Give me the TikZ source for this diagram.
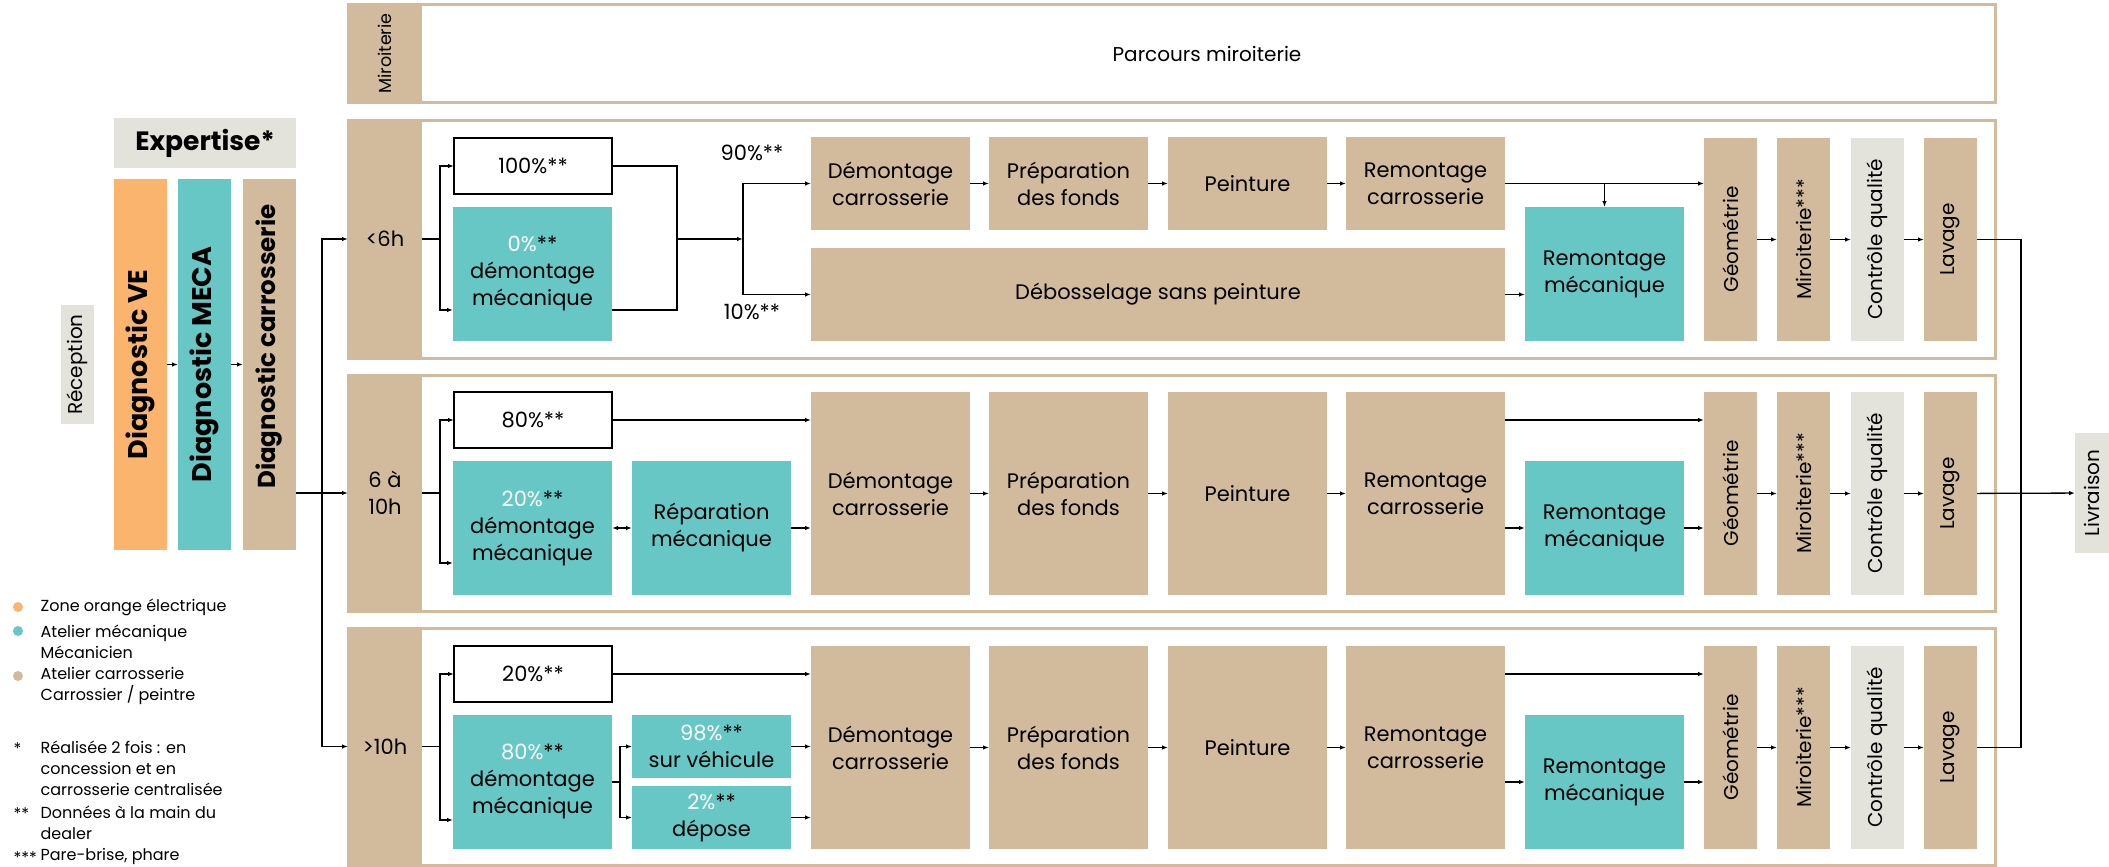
\documentclass[tikz,border=0pt]{standalone}
\usepackage{fontspec}
\setmainfont{Poppins}
\usetikzlibrary{arrows.meta}
\definecolor{colelec}{HTML}{FAB46E}
\definecolor{colmeca}{HTML}{66C7C5}
\definecolor{colcarro}{HTML}{D2BB9C}
\definecolor{colneutre}{HTML}{E3E3DB}

\begin{document}
\begin{tikzpicture}[x=1pt,y=-1pt,>={Latex[length=6pt,width=4.5pt]},line width=1.3pt,
    box/.style={inner sep=0pt,outer sep=0pt,align=center,font=\fontsize{21}{27}\selectfont},
    carro/.style={box,fill=colcarro},
    meca/.style={box,fill=colmeca},
    elec/.style={box,fill=colelec},
    neutre/.style={box,fill=colneutre},
    pct/.style={box,draw=black,line width=1.2pt,fill=white,minimum width=158,minimum height=56},
    cadre/.style={draw=colcarro,line width=3pt,fill=white,inner sep=0pt,minimum width=1647},
    diag/.style={minimum width=53,minimum height=371,font=\bfseries\fontsize{27}{32}\selectfont},
    vbar/.style={minimum width=53,minimum height=203,font=\fontsize{20}{24}\selectfont},
    large/.style={minimum width=159},
    leg/.style={inner sep=0pt,anchor=west,align=left,font=\fontsize{16}{21}\selectfont},
    puce/.style={circle,inner sep=0pt,minimum size=10}]
        \useasboundingbox(0,0)rectangle(2109,867);
        % cadres des parcours
        \node(f0)at(1171.5,53.5)[cadre,minimum height=97]{};
        \node(f1)at(1171.5,239)[cadre,minimum height=238]{};
        \node(f2)at(1171.5,493)[cadre,minimum height=236]{};
        \node(f3)at(1171.5,746.5)[cadre,minimum height=237]{};
        \node(l0)at(385,53.5)[carro,minimum width=74,minimum height=97,font=\fontsize{17.5}{20}\selectfont]{\rotatebox{90}{Miroiterie}};
        \node(parcours)at(1207,53.5)[box,font=\fontsize{20}{24}\selectfont]{Parcours miroiterie};
        \node(l1)at(385,239)[carro,minimum width=74,minimum height=238]{<6h};
        \node(l2)at(385,493)[carro,minimum width=74,minimum height=236]{6 à\\10h};
        \node(l3)at(385,746.5)[carro,minimum width=74,minimum height=237]{>10h};
        % entree
        \node(reception)at(77.5,364.5)[neutre,minimum width=33,minimum height=119,font=\fontsize{20}{24}\selectfont]{\rotatebox{90}{Réception}};
        \node(expertise)at(205,143)[neutre,minimum width=182,minimum height=50,font=\bfseries\fontsize{26.5}{32}\selectfont]{Expertise*};
        \node(diagVE)at(140.5,364.5)[elec,diag]{\rotatebox{90}{Diagnostic VE}};
        \node(diagMECA)at(204.5,364.5)[meca,diag]{\rotatebox{90}{Diagnostic MECA}};
        \node(diagCarro)at(269.5,364.5)[carro,diag,font=\bfseries\fontsize{24.5}{30}\selectfont]{\rotatebox{90}{\hspace*{36pt}Diagnostic carrosserie}};
        % <6h
        \node(r1a)at(533,166)[pct]{100\%**};
        \node(r1b)at(532.5,274)[meca,large,minimum height=134]{\textcolor{white}{0\%}**\\démontage\\mécanique};
        \node(p90)at(752,153)[box]{90\%**};
        \node(p10)at(752,312)[box]{10\%**};
        \node(dem1)at(890.5,183.5)[carro,large,minimum height=93]{Démontage\\carrosserie};
        \node(prep1)at(1068.5,183.5)[carro,large,minimum height=93]{Préparation\\des fonds};
        \node(pein1)at(1247.5,183.5)[carro,large,minimum height=93]{Peinture};
        \node(rem1)at(1425.5,183.5)[carro,large,minimum height=93]{Remontage\\carrosserie};
        \node(deb)at(1158,294.5)[carro,minimum width=694,minimum height=93]{Débosselage sans peinture};
        \node(remm1)at(1604.5,274)[meca,large,minimum height=134]{Remontage\\mécanique};
        \node(geo1)at(1730.5,239.5)[carro,vbar]{\rotatebox{90}{Géométrie}};
        \node(mir1)at(1803.5,239.5)[carro,vbar]{\rotatebox{90}{Miroiterie***}};
        \node(cq1)at(1877.5,239.5)[neutre,vbar]{\rotatebox{90}{Contrôle qualité}};
        \node(lav1)at(1950.5,239.5)[carro,vbar]{\rotatebox{90}{Lavage}};
        % 6 a 10h
        \node(r2a)at(533,420)[pct]{80\%**};
        \node(r2b)at(532.5,528)[meca,large,minimum height=134]{\textcolor{white}{20\%}**\\démontage\\mécanique};
        \node(rep)at(711.5,528)[meca,large,minimum height=134]{Réparation\\mécanique};
        \node(dem2)at(890.5,493.5)[carro,large,minimum height=203]{Démontage\\carrosserie};
        \node(prep2)at(1068.5,493.5)[carro,large,minimum height=203]{Préparation\\des fonds};
        \node(pein2)at(1247.5,493.5)[carro,large,minimum height=203]{Peinture};
        \node(rem2)at(1425.5,493.5)[carro,large,minimum height=203]{Remontage\\carrosserie};
        \node(remm2)at(1604.5,528)[meca,large,minimum height=134]{Remontage\\mécanique};
        \node(geo2)at(1730.5,493.5)[carro,vbar]{\rotatebox{90}{Géométrie}};
        \node(mir2)at(1803.5,493.5)[carro,vbar]{\rotatebox{90}{Miroiterie***}};
        \node(cq2)at(1877.5,493.5)[neutre,vbar]{\rotatebox{90}{Contrôle qualité}};
        \node(lav2)at(1950.5,493.5)[carro,vbar]{\rotatebox{90}{Lavage}};
        % >10h
        \node(r3a)at(533,674)[pct]{20\%**};
        \node(r3b)at(532.5,782)[meca,large,minimum height=134]{\textcolor{white}{80\%}**\\démontage\\mécanique};
        \node(sv)at(711.5,746.5)[meca,large,minimum height=63]{\textcolor{white}{98\%}**\\sur véhicule};
        \node(dep)at(711.5,817.5)[meca,large,minimum height=63]{\textcolor{white}{2\%}**\\dépose};
        \node(dem3)at(890.5,747.5)[carro,large,minimum height=203]{Démontage\\carrosserie};
        \node(prep3)at(1068.5,747.5)[carro,large,minimum height=203]{Préparation\\des fonds};
        \node(pein3)at(1247.5,747.5)[carro,large,minimum height=203]{Peinture};
        \node(rem3)at(1425.5,747.5)[carro,large,minimum height=203]{Remontage\\carrosserie};
        \node(remm3)at(1604.5,782)[meca,large,minimum height=134]{Remontage\\mécanique};
        \node(geo3)at(1730.5,747.5)[carro,vbar]{\rotatebox{90}{Géométrie}};
        \node(mir3)at(1803.5,747.5)[carro,vbar]{\rotatebox{90}{Miroiterie***}};
        \node(cq3)at(1877.5,747.5)[neutre,vbar]{\rotatebox{90}{Contrôle qualité}};
        \node(lav3)at(1950.5,747.5)[carro,vbar]{\rotatebox{90}{Lavage}};
        \node(liv)at(2092,493)[neutre,minimum width=34,minimum height=120,font=\fontsize{20}{24}\selectfont]{\rotatebox{90}{Livraison}};
        % legende
        \node(pe)at(18,607)[puce,fill=colelec]{};
        \node(pm)at(18,631)[puce,fill=colmeca]{};
        \node(pc)at(18,676)[puce,fill=colcarro]{};
        \node(lge)at(40,607)[leg]{Zone orange électrique};
        \node(lgm)at(40,641.5)[leg]{Atelier mécanique\\Mécanicien};
        \node(lgc)at(40,686)[leg]{Atelier carrosserie\\Carrossier / peintre};
        \node(m1)at(13,749)[leg]{*};
        \node(m2)at(13,814)[leg]{**};
        \node(m3)at(13,858)[leg]{***};
        \node(n1)at(40,768)[leg]{Réalisée 2 fois : en\\concession et en\\carrosserie centralisée};
        \node(n2)at(40,823)[leg]{Données à la main du\\dealer};
        \node(n3)at(40,856)[leg]{Pare-brise, phare};
        % points de jonction
        \coordinate(jl)at(322,493);
        \coordinate(sa1)at(440,239);
        \coordinate(mg1)at(677,239);
        \coordinate(sb1)at(743,239);
        \coordinate(sa2)at(440,493);
        \coordinate(sa3)at(440,746.5);
        \coordinate(sb3)at(620,782);
        \coordinate(jr)at(2021,493);
        % liaisons
        \draw[->](diagVE)--(diagMECA);
        \draw[->](diagMECA)--(diagCarro);
        \draw[->](diagCarro.east|-l2)--(l2);
        \draw[->](jl)|-(l1);
        \draw[->](jl)|-(l3);
        \draw(l1)--(sa1);
        \draw[->](sa1)|-(r1a);
        \draw[->](sa1)|-([yshift=-36pt]r1b.west);
        \draw(r1a)-|(mg1);
        \draw([yshift=-36pt]r1b.east)-|(mg1);
        \draw[->](mg1)--(sb1);
        \draw[->](sb1)|-(dem1);
        \draw[->](sb1)|-(deb);
        \draw[->](dem1)--(prep1);
        \draw[->](prep1)--(pein1);
        \draw[->](pein1)--(rem1);
        \draw[->](rem1)--(geo1.west|-rem1);
        \draw[->](remm1.north|-rem1)--(remm1);
        \draw[->](deb)--(remm1.west|-deb);
        \draw[->](geo1)--(mir1);
        \draw[->](mir1)--(cq1);
        \draw[->](cq1)--(lav1);
        \draw(lav1)-|(jr);
        \draw(l2)--(sa2);
        \draw[->](sa2)|-(r2a);
        \draw[->](sa2)|-([yshift=-35pt]r2b.west);
        \draw[->](r2a)--(dem2.west|-r2a);
        \draw[<->](r2b)--(rep);
        \draw[->](rep)--(dem2.west|-rep);
        \draw[->](dem2)--(prep2);
        \draw[->](prep2)--(pein2);
        \draw[->](pein2)--(rem2);
        \draw[->](rem2.east|-r2a)--(geo2.west|-r2a);
        \draw[->](rem2.east|-remm2)--(remm2);
        \draw[->](remm2)--(geo2.west|-remm2);
        \draw[->](geo2)--(mir2);
        \draw[->](mir2)--(cq2);
        \draw[->](cq2)--(lav2);
        \draw[->](lav2)--(liv);
        \draw(l3)--(sa3);
        \draw[->](sa3)|-(r3a);
        \draw[->](sa3)|-([yshift=-38pt]r3b.west);
        \draw[->](r3a)--(dem3.west|-r3a);
        \draw(r3b)--(sb3);
        \draw[->](sb3)|-(sv);
        \draw[->](sb3)|-(dep);
        \draw[->](sv)--(dem3.west|-sv);
        \draw[->](dep)--(dem3.west|-dep);
        \draw[->](dem3)--(prep3);
        \draw[->](prep3)--(pein3);
        \draw[->](pein3)--(rem3);
        \draw[->](rem3.east|-r3a)--(geo3.west|-r3a);
        \draw[->](rem3.east|-remm3)--(remm3);
        \draw[->](remm3)--(geo3.west|-remm3);
        \draw[->](geo3)--(mir3);
        \draw[->](mir3)--(cq3);
        \draw[->](cq3)--(lav3);
        \draw(lav3)-|(jr);
    \end{tikzpicture}
\end{document}
